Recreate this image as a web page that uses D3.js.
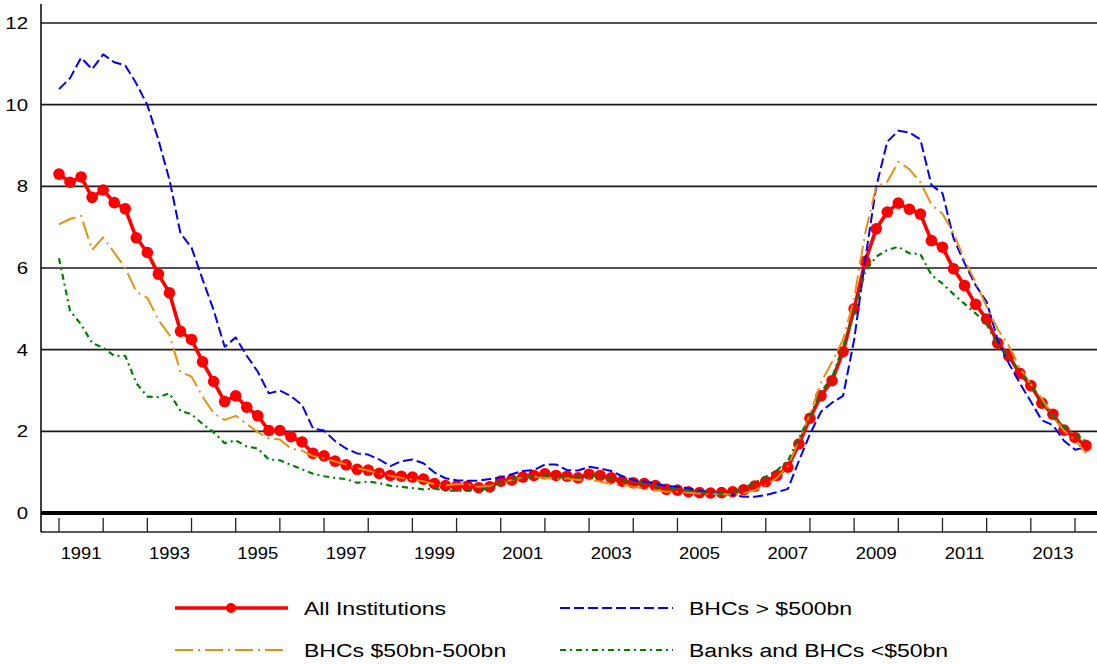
<!DOCTYPE html>
<html><head><meta charset="utf-8">
<script src="https://cdn.jsdelivr.net/npm/d3@7"></script>
<style>body{margin:0;background:#fff} svg{display:block}</style>
</head><body><svg id="c" width="1097" height="664"></svg>
<script>
// ---- data (quarterly, starting 1991 Q1) ----
const startYear = 1991;
const allInst = [8.30, 8.10, 8.23, 7.73, 7.91, 7.60, 7.45, 6.74, 6.38, 5.85,
  5.39, 4.45, 4.25, 3.70, 3.22, 2.73, 2.87, 2.59, 2.38, 2.02,
  2.02, 1.87, 1.74, 1.46, 1.40, 1.27, 1.18, 1.07, 1.05, 0.97,
  0.92, 0.90, 0.88, 0.83, 0.72, 0.67, 0.66, 0.66, 0.62, 0.64,
  0.78, 0.81, 0.88, 0.92, 0.96, 0.92, 0.90, 0.86, 0.95, 0.92,
  0.86, 0.78, 0.74, 0.72, 0.67, 0.58, 0.56, 0.52, 0.50, 0.49,
  0.50, 0.52, 0.57, 0.66, 0.77, 0.92, 1.12, 1.69, 2.32, 2.87,
  3.24, 3.95, 5.00, 6.16, 6.96, 7.37, 7.59, 7.44, 7.32, 6.67,
  6.51, 5.98, 5.57, 5.11, 4.75, 4.16, 3.85, 3.42, 3.12, 2.69,
  2.42, 2.03, 1.85, 1.65];
const bhcLarge = [10.38, 10.65, 11.15, 10.87, 11.23, 11.04, 10.96, 10.52, 9.99, 9.14,
  8.16, 6.85, 6.50, 5.72, 4.97, 4.07, 4.30, 3.85, 3.46, 2.93,
  3.00, 2.86, 2.65, 2.07, 2.02, 1.76, 1.58, 1.46, 1.43, 1.31,
  1.15, 1.27, 1.31, 1.22, 0.99, 0.85, 0.80, 0.79, 0.79, 0.83,
  0.87, 0.95, 1.03, 1.05, 1.19, 1.19, 1.05, 1.04, 1.13, 1.09,
  1.03, 0.90, 0.81, 0.77, 0.73, 0.66, 0.64, 0.60, 0.55, 0.50,
  0.48, 0.44, 0.40, 0.40, 0.44, 0.51, 0.59, 1.28, 1.93, 2.48,
  2.70, 2.87, 4.24, 6.20, 7.99, 9.09, 9.36, 9.32, 9.15, 8.03,
  7.83, 6.73, 6.12, 5.58, 5.17, 4.24, 3.67, 3.18, 2.73, 2.27,
  2.15, 1.77, 1.55, 1.61];
const bhcMid = [7.07, 7.20, 7.28, 6.44, 6.75, 6.38, 6.00, 5.42, 5.27, 4.73,
  4.36, 3.46, 3.34, 2.85, 2.44, 2.28, 2.38, 2.18, 1.98, 1.83,
  1.80, 1.58, 1.53, 1.39, 1.34, 1.26, 1.19, 1.10, 1.04, 0.97,
  0.91, 0.86, 0.82, 0.78, 0.70, 0.67, 0.71, 0.70, 0.64, 0.66,
  0.74, 0.81, 0.87, 0.89, 0.86, 0.83, 0.85, 0.81, 0.82, 0.77,
  0.71, 0.69, 0.64, 0.60, 0.56, 0.52, 0.52, 0.50, 0.48, 0.47,
  0.47, 0.44, 0.48, 0.56, 0.69, 0.86, 1.15, 1.78, 2.42, 3.20,
  3.70, 4.25, 5.25, 6.85, 8.00, 8.11, 8.60, 8.42, 8.10, 7.55,
  7.33, 6.85, 6.20, 5.65, 5.05, 4.50, 4.10, 3.55, 3.15, 2.80,
  2.37, 2.02, 1.78, 1.47];
const smallBanks = [6.24, 4.95, 4.62, 4.16, 4.05, 3.85, 3.85, 3.18, 2.85, 2.84,
  2.93, 2.50, 2.42, 2.18, 1.98, 1.71, 1.78, 1.63, 1.58, 1.31,
  1.29, 1.18, 1.07, 0.96, 0.90, 0.86, 0.83, 0.74, 0.77, 0.73,
  0.67, 0.64, 0.61, 0.58, 0.60, 0.55, 0.55, 0.55, 0.56, 0.61,
  0.76, 0.82, 0.87, 0.89, 0.92, 0.90, 0.88, 0.87, 0.93, 0.89,
  0.85, 0.79, 0.74, 0.72, 0.65, 0.60, 0.58, 0.55, 0.51, 0.49,
  0.48, 0.52, 0.62, 0.74, 0.89, 1.04, 1.28, 1.83, 2.36, 2.97,
  3.32, 4.07, 4.89, 5.91, 6.28, 6.44, 6.52, 6.36, 6.34, 5.83,
  5.62, 5.36, 5.12, 4.89, 4.62, 4.12, 3.82, 3.47, 3.16, 2.70,
  2.38, 2.10, 1.93, 1.76];
const yTicks = [0, 2, 4, 6, 8, 10, 12];
const yearTicks = d3.range(1991, 2015);
const yearLabels = [1991, 1993, 1995, 1997, 1999, 2001, 2003, 2005, 2007, 2009, 2011, 2013];
const seriesNames = ["All Institutions", "BHCs > $500bn", "BHCs $50bn-500bn", "Banks and BHCs <$50bn"];

// ---- setup ----
const svg = d3.select("#c");
const FONT = "Liberation Sans, Arial, sans-serif";
const x = d3.scaleLinear().domain([1991, 2014]).range([59, 1075]);
const y = d3.scaleLinear().domain([0, 12]).range([513, 23]);
const L = 41, R = 1097, AXY = 532;
const tq = i => startYear + i / 4;

function stext(g, str, tx, ty, size, sx, anchor) {
  return g.append("text")
    .attr("transform", `translate(${tx},${ty}) scale(${sx},1)`)
    .attr("text-anchor", anchor)
    .attr("font-family", FONT).attr("font-size", size)
    .attr("fill", "#000").text(str);
}

// grid lines
svg.append("g").selectAll("line").data(yTicks.filter(d => d > 0)).join("line")
  .attr("x1", L).attr("x2", R).attr("y1", d => y(d)).attr("y2", d => y(d))
  .attr("stroke", "#1a1a1a").attr("stroke-width", 1.6);

// y labels
const yl = svg.append("g");
yTicks.forEach(d => stext(yl, d, 28, y(d) + 6, 17, 1.2, "end"));

// x axis line and ticks
svg.append("line").attr("x1", L).attr("x2", R).attr("y1", AXY).attr("y2", AXY)
  .attr("stroke", "#222").attr("stroke-width", 1.5);
svg.append("g").selectAll("line").data(yearTicks).join("line")
  .attr("x1", d => x(d)).attr("x2", d => x(d)).attr("y1", 518).attr("y2", AXY)
  .attr("stroke", "#222").attr("stroke-width", 1.3);
const xl = svg.append("g");
yearLabels.forEach(d => stext(xl, d, x(d + 0.5), 559, 16, 1.15, "middle"));

// y axis
svg.append("line").attr("x1", L).attr("x2", L).attr("y1", 4).attr("y2", AXY)
  .attr("stroke", "#111").attr("stroke-width", 1.6);

// series
const line = d3.line().x((d, i) => x(tq(i))).y(d => y(d));
const styles = [
  {data: allInst, color: "#ff0000", w: 3.6, dash: null, dots: true},
  {data: bhcLarge, color: "#0000ff", w: 2, dash: "10,4", dots: false},
  {data: bhcMid, color: "#e8900f", w: 2, dash: "18,5,2,5", dots: false},
  {data: smallBanks, color: "#008000", w: 2.2, dash: "6,4,2,4", dots: false}
];
styles.forEach(s => {
  svg.append("path").datum(s.data).attr("d", line)
    .attr("fill", "none").attr("stroke", s.color).attr("stroke-width", s.w)
    .attr("stroke-dasharray", s.dash).attr("stroke-linejoin", "round");
  if (s.dots) {
    svg.append("g").selectAll("circle").data(s.data).join("circle")
      .attr("cx", (d, i) => x(tq(i))).attr("cy", d => y(d)).attr("r", 5.8)
      .attr("fill", s.color);
  }
});

// zero line (thick)
svg.append("line").attr("x1", L).attr("x2", R).attr("y1", y(0)).attr("y2", y(0))
  .attr("stroke", "#000").attr("stroke-width", 4);

// legend
const lg = svg.append("g");
const legPos = [[175, 608], [560, 608], [175, 650], [560, 650]];
styles.forEach((s, k) => {
  const [lx, ly] = legPos[k];
  lg.append("line").attr("x1", lx).attr("x2", lx + 113).attr("y1", ly).attr("y2", ly)
    .attr("stroke", s.color).attr("stroke-width", s.w).attr("stroke-dasharray", s.dash);
  if (s.dots) lg.append("circle").attr("cx", lx + 56).attr("cy", ly).attr("r", 5).attr("fill", s.color);
  stext(lg, seriesNames[k], lx + 129, ly + 7, 18, 1.28, "start");
});
</script></body></html>
